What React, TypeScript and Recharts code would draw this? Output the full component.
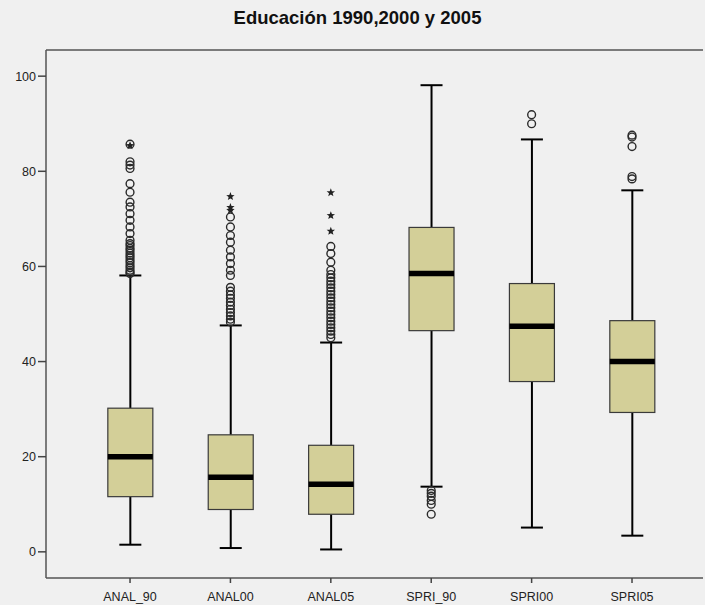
import React from "react";
import {
  ComposedChart,
  Bar,
  Scatter,
  XAxis,
  YAxis,
  ReferenceLine,
} from "recharts";

// variables on the x axis
const categories = ["ANAL_90", "ANAL00", "ANAL05", "SPRI_90", "SPRI00", "SPRI05"];

// box summaries
const whiskerLow = [1.5, 0.8, 0.5, 13.7, 5.1, 3.4];
const q1 = [11.6, 8.9, 7.9, 46.5, 35.8, 29.3];
const median = [20.0, 15.7, 14.2, 58.5, 47.4, 40.0];
const q3 = [30.2, 24.6, 22.4, 68.2, 56.4, 48.6];
const whiskerHigh = [58.1, 47.6, 44.0, 98.1, 86.7, 76.0];

// outliers (circles) and extremes (stars) per variable
const circlesAnal90 = [
  85.7, 82.0, 81.3, 80.6, 77.4, 75.6, 73.5, 72.5, 71.1, 69.7, 68.3, 66.9, 65.5,
  64.8, 64.4, 63.8, 63.4, 62.8, 62.3, 61.8, 61.3, 60.8, 60.2, 59.7, 59.2, 58.8,
  58.5,
];
const starsAnal90 = [85.4];
const circlesAnal00 = [
  70.4, 68.3, 66.5, 65.1, 63.4, 62.0, 60.6, 59.2, 58.1, 55.6, 54.8, 54.0, 53.3,
  52.5, 51.8, 51.0, 50.3, 49.6, 48.9, 48.3,
];
const starsAnal00 = [74.7, 72.4, 71.8];
const circlesAnal05 = [
  64.2, 62.7, 60.9, 59.2, 58.3, 57.6, 56.9, 56.2, 55.5, 54.8, 54.1, 53.4, 52.7,
  52.0, 51.3, 50.6, 49.9, 49.2, 48.5, 47.8, 47.1, 46.4, 45.7, 45.0,
];
const starsAnal05 = [75.5, 70.7, 67.4];
const circlesSpri90 = [12.9, 12.3, 11.7, 10.8, 10.0, 7.9];
const circlesSpri00 = [91.9, 90.0];
const circlesSpri05 = [87.6, 87.2, 85.2, 78.9, 78.4];

const yTicks = [0, 20, 40, 60, 80, 100];

const circleLists = [circlesAnal90, circlesAnal00, circlesAnal05, circlesSpri90, circlesSpri00, circlesSpri05];
const starLists = [starsAnal90, starsAnal00, starsAnal05, [], [], []];

const boxData = categories.map((name, i) => ({
  x: i + 1,
  name,
  whisker: [whiskerLow[i], whiskerHigh[i]],
  q1: q1[i],
  median: median[i],
  q3: q3[i],
}));

const circleData = circleLists.flatMap((list, i) => list.map((v) => ({ x: i + 1, y: v })));
const starData = starLists.flatMap((list, i) => list.map((v) => ({ x: i + 1, y: v })));

const FONT = "Arial, 'Liberation Sans', sans-serif";

const BoxShape = (props: any) => {
  const { x, y, width, height, payload } = props;
  const lo = payload.whisker[0];
  const hi = payload.whisker[1];
  // map a value to pixels with the bar's own (scaled) extent
  const toPx = (v: number) => y + (height * (hi - v)) / (hi - lo);
  const cx = x + width / 2;
  const top = toPx(payload.q3);
  const bot = toPx(payload.q1);
  const med = toPx(payload.median);
  return (
    <g>
      <line x1={cx} x2={cx} y1={toPx(hi)} y2={top} stroke="#000" strokeWidth={2} />
      <line x1={cx} x2={cx} y1={bot} y2={toPx(lo)} stroke="#000" strokeWidth={2} />
      <line x1={cx - 11} x2={cx + 11} y1={toPx(hi)} y2={toPx(hi)} stroke="#000" strokeWidth={2} />
      <line x1={cx - 11} x2={cx + 11} y1={toPx(lo)} y2={toPx(lo)} stroke="#000" strokeWidth={2} />
      <rect x={x} y={top} width={width} height={bot - top} fill="#D3CF98" stroke="#3a3a3a" strokeWidth={1.2} />
      <line x1={x} x2={x + width} y1={med} y2={med} stroke="#000" strokeWidth={5.5} />
    </g>
  );
};

const CircleShape = (props: any) => (
  <circle cx={props.cx} cy={props.cy} r={3.9} fill="none" stroke="#2a2a2a" strokeWidth={1.4} />
);

const StarShape = (props: any) => {
  const { cx, cy } = props;
  const pts: string[] = [];
  for (let k = 0; k < 10; k++) {
    const r = k % 2 === 0 ? 4.4 : 1.9;
    const a = -Math.PI / 2 + (k * Math.PI) / 5;
    pts.push(`${cx + r * Math.cos(a)},${cy + r * Math.sin(a)}`);
  }
  return <polygon points={pts.join(" ")} fill="#222" />;
};

const App = () => {
  return (
    <div
      style={{
        position: "absolute",
        left: 0,
        top: 0,
        width: 705,
        height: 605,
        background: "#F0F0F0",
        fontFamily: FONT,
      }}
    >
      <div
        style={{
          position: "absolute",
          left: 0,
          width: 715,
          top: 7,
          lineHeight: "22px",
          textAlign: "center",
          fontWeight: "bold",
          fontSize: 18.5,
          color: "#111",
        }}
      >
        Educación 1990,2000 y 2005
      </div>
      <ComposedChart
        width={705}
        height={605}
        data={boxData}
        margin={{ top: 50, right: 2, bottom: 0, left: 0 }}
      >
        <XAxis
          dataKey="x"
          type="number"
          domain={[0.163, 6.707]}
          ticks={[1, 2, 3, 4, 5, 6]}
          tickFormatter={(v: number) => categories[v - 1]}
          allowDataOverflow
          height={27}
          tickSize={5}
          tickMargin={9}
          axisLine={{ stroke: "#555", strokeWidth: 1.5 }}
          tickLine={{ stroke: "#444", strokeWidth: 1.5 }}
          tick={{ fill: "#222", fontSize: 12.5, fontFamily: FONT }}
        />
        <YAxis
          dataKey="y"
          type="number"
          domain={[-5.5, 105.5]}
          ticks={yTicks}
          allowDataOverflow
          width={46}
          tickSize={8}
          tickMargin={2}
          axisLine={{ stroke: "#555", strokeWidth: 1.5 }}
          tickLine={{ stroke: "#444", strokeWidth: 1.5 }}
          tick={{ fill: "#222", fontSize: 12.5, fontFamily: FONT }}
        />
        <ReferenceLine y={105.5} stroke="#555" strokeWidth={1.5} ifOverflow="extendDomain" />
        <Bar dataKey="whisker" barSize={45} shape={BoxShape} isAnimationActive={false} />
        <Scatter data={circleData} shape={CircleShape} isAnimationActive={false} />
        <Scatter data={starData} shape={StarShape} isAnimationActive={false} />
      </ComposedChart>
    </div>
  );
};

export default App;
